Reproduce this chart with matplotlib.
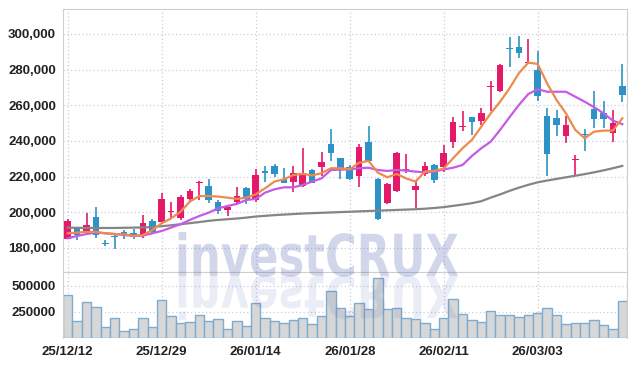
import numpy as np
import matplotlib
matplotlib.use('Agg')
import matplotlib.pyplot as plt
import matplotlib.transforms as mtransforms
from matplotlib.textpath import TextPath
from matplotlib.patches import PathPatch
from matplotlib.font_manager import FontProperties
from matplotlib.ticker import FuncFormatter

plt.rcParams['font.family'] = ['Liberation Sans', 'DejaVu Sans']

# daily candles, values in thousands of won
opens = [185.0, 191.0, 188.2, 197.2, 182.9, 186.5, 189.0, 188.3, 186.7, 195.3,
         194.4, 200.1, 196.6, 207.6, 216.3, 214.7, 206.0, 201.5, 206.0, 213.8,
         206.9, 223.2, 226.0, 218.9, 217.2, 214.9, 223.7, 225.6, 238.5, 230.5,
         225.6, 220.5, 239.4, 218.7, 205.4, 212.1, 223.3, 212.5, 221.5, 226.5,
         225.6, 239.6, 247.6, 253.3, 251.4, 270.0, 268.0, 291.8, 292.9, 283.7,
         279.8, 254.0, 252.7, 242.8, 229.3, 243.6, 258.0, 255.5, 244.6, 270.8]
closes = [195.3, 187.0, 193.0, 187.5, 182.3, 186.1, 187.4, 186.2, 193.8, 189.2,
          207.5, 200.6, 208.6, 212.0, 216.8, 206.9, 200.9, 203.0, 209.3, 207.3,
          220.9, 221.9, 221.5, 216.6, 221.9, 221.9, 216.6, 228.2, 233.4, 223.7,
          218.7, 236.6, 228.8, 196.2, 215.9, 233.3, 224.5, 214.7, 226.0, 218.1,
          233.4, 250.5, 248.3, 250.8, 255.5, 270.6, 282.6, 291.3, 289.5, 284.2,
          265.4, 232.7, 249.0, 249.0, 230.0, 243.1, 252.3, 252.3, 250.3, 265.8]
highs = [196.5, 191.5, 199.8, 203.2, 184.4, 187.6, 190.0, 190.5, 198.3, 196.1,
         211.0, 206.0, 209.5, 212.9, 217.7, 218.5, 206.9, 203.5, 214.0, 214.4,
         224.1, 226.2, 227.1, 224.7, 226.0, 235.9, 224.1, 234.0, 246.6, 230.6,
         226.5, 238.1, 248.4, 219.4, 216.3, 233.8, 232.5, 217.4, 228.2, 227.1,
         237.7, 253.3, 257.0, 253.3, 258.3, 273.8, 283.2, 298.1, 298.9, 297.0,
         290.5, 258.3, 257.4, 254.0, 232.1, 246.7, 268.0, 262.4, 257.4, 283.0]
lows = [184.8, 184.3, 187.5, 185.4, 181.0, 179.4, 185.0, 185.0, 185.4, 188.2,
        193.3, 196.6, 195.7, 206.5, 206.9, 205.4, 199.1, 197.9, 205.4, 204.7,
        206.0, 217.2, 219.6, 216.3, 211.6, 214.0, 216.3, 220.4, 228.9, 218.5,
        218.1, 214.0, 228.4, 195.7, 204.7, 211.6, 221.9, 202.2, 220.4, 216.6,
        222.8, 235.9, 245.8, 243.4, 249.0, 256.8, 267.6, 281.3, 286.4, 283.2,
        262.4, 220.5, 242.8, 239.1, 220.5, 234.6, 247.1, 247.1, 239.6, 261.7]

ma5 = [188.2, 188.6, 189.0, 189.0, 188.2, 187.8, 187.6, 186.7, 187.2, 190.0,
       193.8, 196.6, 200.3, 206.0, 209.1, 209.1, 208.8, 208.2, 207.5, 208.2,
       210.0, 213.5, 217.2, 218.5, 220.9, 221.5, 220.7, 221.9, 224.7, 224.7,
       224.1, 227.8, 228.8, 222.2, 219.6, 221.5, 219.0, 217.2, 222.8, 223.2,
       224.5, 230.3, 235.9, 240.6, 248.0, 255.5, 262.0, 269.5, 278.0, 283.9,
       283.2, 272.3, 263.0, 255.5, 246.2, 241.5, 245.2, 245.8, 245.8, 252.7]
ma10 = [185.4, 186.7, 187.8, 188.6, 188.2, 187.8, 187.2, 186.9, 186.9, 188.2,
        189.5, 191.4, 193.3, 195.7, 197.9, 199.8, 202.2, 203.5, 204.7, 206.9,
        207.5, 211.0, 212.9, 214.0, 214.0, 215.3, 217.2, 219.0, 223.7, 223.9,
        224.1, 224.7, 225.0, 223.7, 223.2, 223.7, 223.4, 222.8, 222.4, 222.8,
        224.0, 225.0, 226.5, 231.6, 235.9, 239.6, 246.2, 253.3, 260.2, 266.3,
        269.0, 267.6, 267.6, 267.6, 264.8, 262.0, 258.9, 255.5, 251.4, 249.4]
ma60 = [191.4, 191.3, 191.2, 191.2, 191.2, 191.2, 191.3, 191.4, 191.5, 191.7,
        192.2, 192.7, 193.3, 193.9, 194.5, 195.2, 195.7, 196.1, 196.5, 197.0,
        197.6, 198.0, 198.4, 198.7, 199.0, 199.3, 199.5, 199.7, 199.9, 200.1,
        200.3, 200.5, 200.7, 200.9, 201.1, 201.3, 201.5, 201.7, 202.0, 202.4,
        202.9, 203.6, 204.3, 205.1, 206.2, 208.2, 210.0, 212.0, 213.8, 215.4,
        216.8, 217.8, 218.7, 219.6, 220.5, 221.4, 222.4, 223.5, 224.7, 226.0]

# volume, thousands of shares
volume = [413, 154, 346, 298, 103, 183, 67, 77, 192, 103,
          365, 202, 144, 151, 218, 163, 180, 77, 160, 112,
          333, 189, 163, 144, 170, 189, 131, 208, 449, 285,
          208, 333, 276, 574, 276, 285, 189, 180, 141, 83,
          189, 372, 228, 170, 151, 256, 218, 218, 199, 218,
          231, 285, 218, 131, 141, 141, 170, 122, 77, 353]

tick_pos = [0, 10, 20, 30, 40, 50]
tick_labels = ['25/12/12', '25/12/29', '26/01/14', '26/01/28', '26/02/11', '26/03/03']

o = np.array(opens) * 1000
c = np.array(closes) * 1000
h = np.array(highs) * 1000
l = np.array(lows) * 1000
vol = np.array(volume) * 1000
x = np.arange(len(o))

UP = '#e5196a'
DOWN = '#2d93c6'
GRID = '#c9cde0'
SPINE = '#cfcfcf'
LABEL_SIZE = 9.5

W, H = 637, 366
fig = plt.figure(figsize=(W / 100, H / 100), dpi=100)
ax = fig.add_axes([63 / W, 94 / H, 564 / W, 263 / H])
axv = fig.add_axes([63 / W, 28.5 / H, 564 / W, 65.5 / H], sharex=ax)

# candles
colors = np.where(c >= o, UP, DOWN)
body_low = np.minimum(o, c)
body_h = np.maximum(np.abs(c - o), 700)
ax.vlines(x, l, h, colors=colors, lw=1.2, zorder=2)
ax.bar(x, body_h, width=0.7, bottom=body_low, color=colors, lw=0, zorder=3)

# moving averages
ax.plot(x, np.array(ma60) * 1000, color='#858585', lw=1.6, zorder=4)
ax.plot(x, np.array(ma10) * 1000, color='#c65ae6', lw=1.6, zorder=4)
ax.plot(x, np.array(ma5) * 1000, color='#ef8a4e', lw=1.6, zorder=4)

ax.set_xlim(-0.5, 59.5)
ax.set_ylim(166500, 314000)
ax.set_yticks(np.arange(180000, 300001, 20000))
ax.yaxis.set_major_formatter(FuncFormatter(lambda v, p: f'{int(v):,}'))
ax.set_xticks(tick_pos)
ax.tick_params(axis='x', labelbottom=False, length=0)
ax.tick_params(axis='y', length=0, pad=5, labelsize=LABEL_SIZE, labelcolor='#222222')
for t in ax.get_yticklabels():
    t.set_fontweight('bold')
ax.grid(True, color=GRID, linestyle=(0, (1, 2)), lw=0.9)
ax.set_axisbelow(True)
for s in ax.spines.values():
    s.set_color(SPINE)

# volume panel
axv.bar(x, vol, width=1.0, color='#d7d7d7', edgecolor='#7eabd0', lw=1.0, zorder=2)
axv.set_ylim(0, 630000)
axv.set_yticks([250000, 500000])
axv.set_xticks(tick_pos)
axv.set_xticklabels(tick_labels)
axv.tick_params(axis='both', length=0, labelsize=LABEL_SIZE, labelcolor='#222222')
axv.tick_params(axis='y', pad=5)
axv.tick_params(axis='x', pad=6)
for t in axv.get_yticklabels() + axv.get_xticklabels():
    t.set_fontweight('bold')
axv.grid(True, color=GRID, linestyle=(0, (1, 2)), lw=0.9)
axv.set_axisbelow(True)
for s in axv.spines.values():
    s.set_color(SPINE)
axv.spines['bottom'].set_visible(False)

# watermark with reflection
fp = FontProperties(family='DejaVu Sans', weight='bold')
tp = TextPath((0, 0), 'investCRUX', size=100, prop=fp)
verts = tp.vertices
tw = verts[:, 0].max() - verts[:, 0].min()
th = verts[:, 1].max()
sx = 283 / tw
sy = 44 / th
x0 = 175 - verts[:, 0].min() * sx
y0 = H - 276
fig.add_artist(PathPatch(tp, transform=mtransforms.Affine2D().scale(sx, sy).translate(x0, y0),
                         color='#4a5fae', alpha=0.25, lw=0, zorder=5))
fig.add_artist(PathPatch(tp, transform=mtransforms.Affine2D().scale(sx, -sy).translate(x0, y0),
                         color='#4a5fae', alpha=0.11, lw=0, zorder=5))

fig.savefig('out.png', dpi=100)
